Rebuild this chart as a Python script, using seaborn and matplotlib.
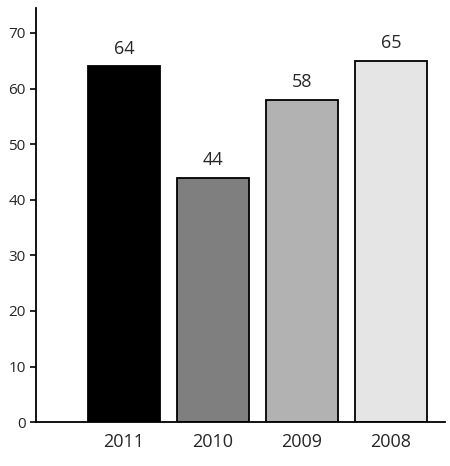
import matplotlib
matplotlib.use("Agg")
import matplotlib.pyplot as plt
import seaborn as sns
import pandas as pd

years = ["2011", "2010", "2009", "2008"]
values = [64, 44, 58, 65]
colors = ["#000000", "#7f7f7f", "#b2b2b2", "#e5e5e5"]

sns.set_style("ticks")
plt.rcParams['font.family'] = ['Open Sans', 'DejaVu Sans']

df = pd.DataFrame({"year": years, "value": values})
fig = plt.figure(figsize=(4.5, 4.66), dpi=100)
ax = fig.add_axes([0.08, 0.094, 0.909, 0.889])
sns.barplot(data=df, x="year", y="value", hue="year", palette=colors, legend=False,
            width=0.81, edgecolor="black", linewidth=1.3, ax=ax, saturation=1)
for i, v in enumerate(values):
    ax.text(i, v + 1.5, str(v), ha="center", va="bottom", fontsize=13)
ax.set_xlim(-0.99, 3.61)
ax.set_ylim(0, 74.5)
ax.set_yticks(range(0, 71, 10))
ax.set_xlabel("")
ax.set_ylabel("")
ax.tick_params(axis="x", length=0, labelsize=13, pad=8)
ax.tick_params(axis="y", labelsize=11, length=4, width=1.2, color="black")
for s in ["top", "right"]:
    ax.spines[s].set_visible(False)
for s in ["left", "bottom"]:
    ax.spines[s].set_color("black")
    ax.spines[s].set_linewidth(1.3)
fig.savefig("out.png", dpi=100)
